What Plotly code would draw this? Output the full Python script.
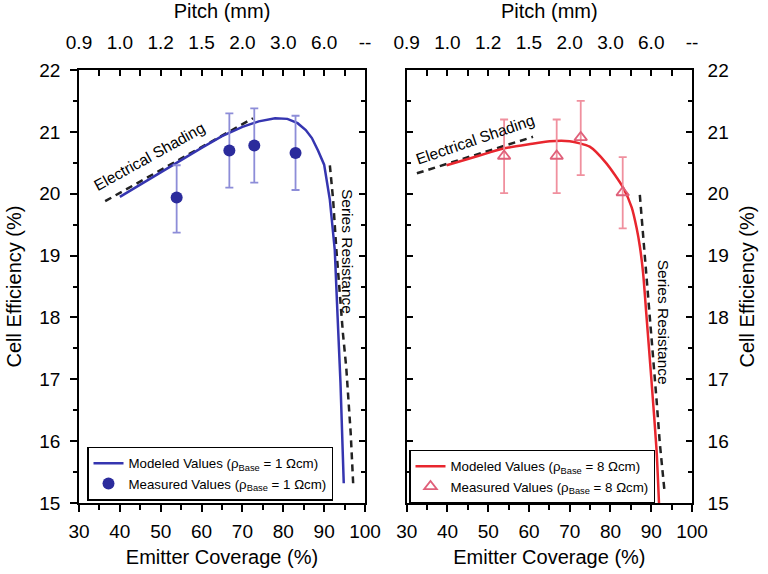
import plotly.graph_objects as go

# ---------------- data ----------------
pitch_pos = [30, 40, 50, 60, 70, 80, 90, 100]
pitch_labels = ["0.9", "1.0", "1.2", "1.5", "2.0", "3.0", "6.0", "--"]

# left panel (rho_base = 1 Ohm cm)
l_model_x = [40, 45, 50, 55, 60, 65, 70, 74, 78, 81, 83.5, 85.5, 87, 88.5, 90, 91.4, 92.6, 93.3, 94.0, 94.8]
l_model_y = [19.95, 20.15, 20.35, 20.55, 20.74, 20.93, 21.08, 21.17, 21.22, 21.21, 21.14, 21.03, 20.9, 20.7, 20.47, 19.9, 19.09, 18.0, 16.94, 15.32]
l_meas_x = [53.9, 66.8, 72.9, 83.0]
l_meas_y = [19.94, 20.70, 20.78, 20.66]
l_err_up = [0.52, 0.60, 0.60, 0.60]
l_err_dn = [0.57, 0.60, 0.60, 0.60]
l_shade_x = [36.4, 72.6]
l_shade_y = [19.88, 21.22]
l_sr_x = [91.4, 92.2, 93.0, 93.6, 94.6, 95.4, 96.0, 96.5, 97.1]
l_sr_y = [20.46, 19.9, 19.09, 18.55, 17.74, 17.2, 16.67, 16.13, 15.32]

# right panel (rho_base = 8 Ohm cm)
r_model_x = [39.8, 45, 50, 53.7, 60, 65.1, 70, 74.9, 79, 83.1, 85.2, 86.4, 87.2, 88.0, 88.8, 90.1, 91.3, 91.9]
r_model_y = [20.46, 20.56, 20.66, 20.73, 20.8, 20.85, 20.85, 20.76, 20.49, 20.1, 19.78, 19.45, 19.15, 18.72, 18.05, 16.94, 15.86, 15.0]
r_meas_x = [53.9, 66.8, 72.7, 83.0]
r_meas_y = [20.61, 20.61, 20.91, 20.02]
r_err_up = [0.59, 0.59, 0.59, 0.57]
r_err_dn = [0.60, 0.60, 0.61, 0.58]
r_shade_x = [32.5, 61.0]
r_shade_y = [20.33, 20.92]
r_sr_x = [87.2, 88.0, 88.9, 89.7, 90.7, 91.3, 92.1, 93.3]
r_sr_y = [19.98, 19.36, 18.55, 18.01, 17.20, 16.67, 15.97, 15.16]

FONT = "Arial, Liberation Sans, Helvetica, sans-serif"
BLUE = "#3535b0"
BLUE_M = "#2b2b9c"
BLUE_E = "#8d8dd8"
RED = "#e8262e"
PINK = "#e0607a"
PINK_E = "#f0909e"
DASH = "#222222"

fig = go.Figure()

# left panel
fig.add_trace(go.Scatter(x=l_shade_x, y=l_shade_y, mode="lines", xaxis="x", yaxis="y",
                         line=dict(color=DASH, width=2.5, dash="7px,5px"), showlegend=False))
fig.add_trace(go.Scatter(x=l_sr_x, y=l_sr_y, mode="lines", xaxis="x", yaxis="y",
                         line=dict(color=DASH, width=2.5, dash="7px,5px"), showlegend=False))
fig.add_trace(go.Scatter(x=l_model_x, y=l_model_y, mode="lines", xaxis="x", yaxis="y",
                         line=dict(color=BLUE, width=2.5), legend="legend",
                         name="Modeled Values (ρ<sub>Base</sub> = 1 Ωcm)"))
fig.add_trace(go.Scatter(x=l_meas_x, y=l_meas_y, mode="markers", xaxis="x", yaxis="y",
                         marker=dict(color=BLUE_M, size=12, symbol="circle"),
                         error_y=dict(type="data", symmetric=False, array=l_err_up, arrayminus=l_err_dn,
                                      color=BLUE_E, thickness=1.8, width=4),
                         legend="legend", name="Measured Values (ρ<sub>Base</sub> = 1 Ωcm)"))
# dummy traces for overlay axes
fig.add_trace(go.Scatter(x=[None], y=[None], xaxis="x3", yaxis="y", showlegend=False, hoverinfo="skip"))
fig.add_trace(go.Scatter(x=[None], y=[None], xaxis="x", yaxis="y3", showlegend=False, hoverinfo="skip"))

# right panel
fig.add_trace(go.Scatter(x=r_shade_x, y=r_shade_y, mode="lines", xaxis="x2", yaxis="y2",
                         line=dict(color=DASH, width=2.5, dash="7px,5px"), showlegend=False))
fig.add_trace(go.Scatter(x=r_sr_x, y=r_sr_y, mode="lines", xaxis="x2", yaxis="y2",
                         line=dict(color=DASH, width=2.5, dash="7px,5px"), showlegend=False))
fig.add_trace(go.Scatter(x=r_model_x, y=r_model_y, mode="lines", xaxis="x2", yaxis="y2",
                         line=dict(color=RED, width=2.5, shape="spline", smoothing=0.6), legend="legend2",
                         name="Modeled Values (ρ<sub>Base</sub> = 8 Ωcm)"))
fig.add_trace(go.Scatter(x=r_meas_x, y=r_meas_y, mode="markers", xaxis="x2", yaxis="y2",
                         marker=dict(color=PINK, size=11, symbol="triangle-up-open",
                                     line=dict(color=PINK, width=1.8)),
                         error_y=dict(type="data", symmetric=False, array=r_err_up, arrayminus=r_err_dn,
                                      color=PINK_E, thickness=1.8, width=4),
                         legend="legend2", name="Measured Values (ρ<sub>Base</sub> = 8 Ωcm)"))
fig.add_trace(go.Scatter(x=[None], y=[None], xaxis="x4", yaxis="y2", showlegend=False, hoverinfo="skip"))

L, R, T, B = 79, 76, 70, 71
W, H = 768, 574
pw = W - L - R
ph = H - T - B
left_dom = [0, (365 - L) / pw]
right_dom = [(406.7 - L) / pw, 1]

axfont = dict(family=FONT, size=19, color="black")
titlefont = dict(family=FONT, size=20, color="black")
LW = 1.6
minor_x = [35, 45, 55, 65, 75, 85, 95]
minor_y = [15.5, 16.5, 17.5, 18.5, 19.5, 20.5, 21.5]
major_x = [30, 40, 50, 60, 70, 80, 90, 100]
major_y = [15, 16, 17, 18, 19, 20, 21, 22]

common_x = dict(range=[30, 100], showgrid=False, zeroline=False, showline=True, linecolor="black",
                linewidth=LW, tickfont=axfont, tickcolor="black", automargin=False)
common_y = dict(range=[15, 22], showgrid=False, zeroline=False, showline=True, linecolor="black",
                linewidth=LW, tickfont=axfont, tickcolor="black", automargin=False)

fig.update_layout(
    width=W, height=H,
    margin=dict(l=L, r=R, t=T, b=B, pad=0, autoexpand=False),
    paper_bgcolor="white", plot_bgcolor="white",
    font=dict(family=FONT, color="black"),
    xaxis=dict(common_x, domain=left_dom, anchor="y", ticks="outside", ticklen=7, tickwidth=1.5,
               tickvals=major_x, ticklabelstandoff=3,
               minor=dict(tickvals=minor_x, ticks="outside", ticklen=5, tickwidth=1.5, tickcolor="black"),
               title=dict(text="Emitter Coverage (%)", font=titlefont, standoff=9)),
    xaxis3=dict(common_x, overlaying="x", anchor="y", side="top", ticks="inside", ticklen=6, tickwidth=1.5,
                tickvals=pitch_pos, ticktext=pitch_labels, ticklabelstandoff=12,
                minor=dict(tickvals=minor_x, ticks="inside", ticklen=6, tickwidth=1.5, tickcolor="black"),
                title=dict(text="Pitch (mm)", font=titlefont, standoff=8)),
    yaxis=dict(common_y, domain=[0, 1], anchor="x", ticks="outside", ticklen=7, tickwidth=1.5,
               tickvals=major_y, ticklabelstandoff=6,
               minor=dict(tickvals=minor_y, ticks="outside", ticklen=4, tickwidth=1.5, tickcolor="black"),
               title=dict(text="Cell Efficiency (%)", font=titlefont, standoff=12)),
    yaxis3=dict(common_y, overlaying="y", anchor="x", side="right", ticks="inside", ticklen=6, tickwidth=1.5,
                tickvals=major_y, showticklabels=False,
                minor=dict(tickvals=minor_y, ticks="inside", ticklen=4, tickwidth=1.5, tickcolor="black")),
    xaxis2=dict(common_x, domain=right_dom, anchor="y2", ticks="outside", ticklen=7, tickwidth=1.5,
                tickvals=major_x, ticklabelstandoff=3,
                minor=dict(tickvals=minor_x, ticks="outside", ticklen=5, tickwidth=1.5, tickcolor="black"),
                title=dict(text="Emitter Coverage (%)", font=titlefont, standoff=9)),
    xaxis4=dict(common_x, overlaying="x2", anchor="y2", side="top", ticks="inside", ticklen=6, tickwidth=1.5,
                tickvals=pitch_pos, ticktext=pitch_labels, ticklabelstandoff=12,
                minor=dict(tickvals=minor_x, ticks="inside", ticklen=6, tickwidth=1.5, tickcolor="black"),
                title=dict(text="Pitch (mm)", font=titlefont, standoff=8)),
    yaxis2=dict(common_y, domain=[0, 1], anchor="x2", side="right", mirror="ticks", ticks="inside", ticklen=6, tickwidth=1.5,
                tickvals=major_y, ticklabelstandoff=10,
                minor=dict(tickvals=minor_y, ticks="inside", ticklen=4, tickwidth=1.5, tickcolor="black"),
                title=dict(text="Cell Efficiency (%)", font=titlefont, standoff=12)),
    legend=dict(x=(87 - L) / pw, y=(H - B - 473.5) / ph, xanchor="left", yanchor="middle",
                bordercolor="black", borderwidth=1.5, bgcolor="white",
                font=dict(family=FONT, size=13.3, color="black"), tracegroupgap=0,
                itemwidth=30),
    legend2=dict(x=(409 - L) / pw, y=(H - B - 476.5) / ph, xanchor="left", yanchor="middle",
                 bordercolor="black", borderwidth=1.5, bgcolor="white",
                 font=dict(family=FONT, size=13.3, color="black"), tracegroupgap=0,
                 itemwidth=30),
    showlegend=True,
)


def px2paper(px, py):
    return (px - L) / pw, (H - B - py) / ph


ann_font = dict(family=FONT, size=15.5, color="black")
for text, px, py, ang in [("Electrical Shading", 149, 156, -29),
                          ("Electrical Shading", 475, 139.3, -19),
                          ("Series Resistance", 348, 251, 90),
                          ("Series Resistance", 663, 321.7, 90)]:
    ax, ay = px2paper(px, py)
    fig.add_annotation(text=text, x=ax, y=ay, xref="paper", yref="paper", xanchor="center", yanchor="middle",
                       showarrow=False, textangle=ang, font=ann_font)

fig.write_html("out.html")
